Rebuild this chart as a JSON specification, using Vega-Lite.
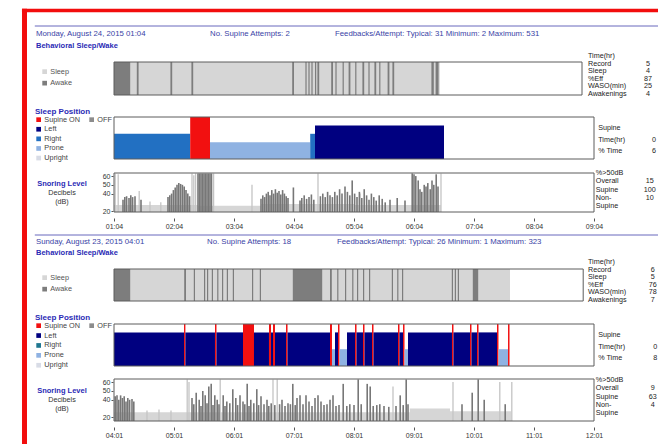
{
  "$schema": "https://vega.github.io/schema/vega-lite/v6.json",
  "width": 658,
  "height": 444,
  "padding": 0,
  "autosize": {"type": "none"},
  "background": "white",
  "config": {
    "view": {"stroke": null},
    "font": "Liberation Sans",
    "text": {"font": "Liberation Sans"},
    "axis": {"labelFont": "Liberation Sans"},
    "legend": {"labelFont": "Liberation Sans", "titleFont": "Liberation Sans"}
  },
  "datasets": {
    "sw1": [
      {"start": 0, "end": 5.43, "state": "Sleep"},
      {"start": 0, "end": 0.27, "state": "Awake"},
      {"start": 0.38, "end": 0.41, "state": "Awake"},
      {"start": 0.94, "end": 0.97, "state": "Awake"},
      {"start": 1.29, "end": 1.32, "state": "Awake"},
      {"start": 2.97, "end": 3.0, "state": "Awake"},
      {"start": 3.19, "end": 3.21, "state": "Awake"},
      {"start": 3.24, "end": 3.26, "state": "Awake"},
      {"start": 3.29, "end": 3.31, "state": "Awake"},
      {"start": 3.35, "end": 3.37, "state": "Awake"},
      {"start": 3.39, "end": 3.42, "state": "Awake"},
      {"start": 3.62, "end": 3.65, "state": "Awake"},
      {"start": 3.69, "end": 3.71, "state": "Awake"},
      {"start": 3.81, "end": 3.83, "state": "Awake"},
      {"start": 3.91, "end": 3.94, "state": "Awake"},
      {"start": 4.02, "end": 4.04, "state": "Awake"},
      {"start": 4.14, "end": 4.17, "state": "Awake"},
      {"start": 4.24, "end": 4.26, "state": "Awake"},
      {"start": 4.34, "end": 4.37, "state": "Awake"},
      {"start": 4.42, "end": 4.44, "state": "Awake"},
      {"start": 4.56, "end": 4.59, "state": "Awake"},
      {"start": 4.64, "end": 4.67, "state": "Awake"},
      {"start": 5.29, "end": 5.33, "state": "Awake"},
      {"start": 5.36, "end": 5.41, "state": "Awake"}
    ],
    "pos1": [
      {"start": 0, "end": 1.27, "position": "Right"},
      {"start": 1.27, "end": 1.6, "position": "Supine ON"},
      {"start": 1.6, "end": 3.27, "position": "Prone"},
      {"start": 3.27, "end": 3.35, "position": "Right"},
      {"start": 3.35, "end": 5.5, "position": "Left"}
    ],
    "band1": [
      {"start": 0, "end": 1.4, "db": 27},
      {"start": 1.4, "end": 2.45, "db": 26},
      {"start": 2.45, "end": 4.0, "db": 28},
      {"start": 4.0, "end": 5.45, "db": 27}
    ],
    "noise1": [
      {"t": 0.02, "db": 63}, {"t": 0.07, "db": 62}, {"t": 0.42, "db": 43}, {"t": 0.6, "db": 31},
      {"t": 0.78, "db": 30}, {"t": 1.3, "db": 63}, {"t": 1.33, "db": 61}, {"t": 1.36, "db": 63},
      {"t": 1.66, "db": 63}, {"t": 2.3, "db": 50}, {"t": 3.4, "db": 63}, {"t": 4.1, "db": 40},
      {"t": 5.45, "db": 63}
    ],
    "snore1": [
      {"t": 0.15, "db": 33}, {"t": 0.18, "db": 36}, {"t": 0.21, "db": 37}, {"t": 0.25, "db": 35},
      {"t": 0.28, "db": 38}, {"t": 0.31, "db": 36}, {"t": 0.35, "db": 37}, {"t": 0.45, "db": 33},
      {"t": 0.9, "db": 36}, {"t": 0.93, "db": 38}, {"t": 0.96, "db": 40}, {"t": 0.99, "db": 44},
      {"t": 1.02, "db": 47}, {"t": 1.05, "db": 50}, {"t": 1.08, "db": 52}, {"t": 1.11, "db": 51},
      {"t": 1.14, "db": 50}, {"t": 1.17, "db": 48}, {"t": 1.2, "db": 44}, {"t": 1.23, "db": 40},
      {"t": 1.26, "db": 37},
      {"t": 1.4, "db": 63}, {"t": 1.425, "db": 63}, {"t": 1.45, "db": 63}, {"t": 1.475, "db": 63},
      {"t": 1.5, "db": 63}, {"t": 1.525, "db": 63}, {"t": 1.55, "db": 63}, {"t": 1.575, "db": 63},
      {"t": 1.6, "db": 63}, {"t": 1.625, "db": 63},
      {"t": 2.45, "db": 34}, {"t": 2.48, "db": 38}, {"t": 2.51, "db": 36}, {"t": 2.54, "db": 40},
      {"t": 2.57, "db": 42}, {"t": 2.6, "db": 38}, {"t": 2.63, "db": 44}, {"t": 2.66, "db": 40},
      {"t": 2.69, "db": 45}, {"t": 2.72, "db": 41}, {"t": 2.75, "db": 43}, {"t": 2.78, "db": 39},
      {"t": 2.81, "db": 44}, {"t": 2.84, "db": 40}, {"t": 2.87, "db": 37}, {"t": 2.9, "db": 35},
      {"t": 2.99, "db": 47},
      {"t": 3.1, "db": 32}, {"t": 3.13, "db": 35}, {"t": 3.17, "db": 38}, {"t": 3.21, "db": 34},
      {"t": 3.25, "db": 36}, {"t": 3.29, "db": 39}, {"t": 3.33, "db": 33}, {"t": 3.44, "db": 37},
      {"t": 3.48, "db": 40}, {"t": 3.52, "db": 36}, {"t": 3.56, "db": 42}, {"t": 3.6, "db": 38},
      {"t": 3.64, "db": 36}, {"t": 3.68, "db": 42}, {"t": 3.72, "db": 38}, {"t": 3.76, "db": 45},
      {"t": 3.8, "db": 40}, {"t": 3.85, "db": 48}, {"t": 3.89, "db": 42}, {"t": 3.93, "db": 38},
      {"t": 3.97, "db": 55}, {"t": 4.01, "db": 40}, {"t": 4.05, "db": 36},
      {"t": 4.09, "db": 42}, {"t": 4.13, "db": 35}, {"t": 4.17, "db": 45}, {"t": 4.21, "db": 38},
      {"t": 4.25, "db": 33}, {"t": 4.29, "db": 40}, {"t": 4.33, "db": 36}, {"t": 4.37, "db": 32},
      {"t": 4.42, "db": 38}, {"t": 4.47, "db": 34}, {"t": 4.52, "db": 30},
      {"t": 4.6, "db": 33}, {"t": 4.72, "db": 35}, {"t": 4.85, "db": 32},
      {"t": 4.97, "db": 63}, {"t": 5.0, "db": 62}, {"t": 5.03, "db": 60}, {"t": 5.07, "db": 55},
      {"t": 5.1, "db": 45}, {"t": 5.13, "db": 42}, {"t": 5.17, "db": 50}, {"t": 5.2, "db": 48},
      {"t": 5.23, "db": 52}, {"t": 5.27, "db": 45}, {"t": 5.3, "db": 55}, {"t": 5.33, "db": 50},
      {"t": 5.37, "db": 62}, {"t": 5.4, "db": 48}
    ],
    "sw2": [
      {"start": 0, "end": 6.6, "state": "Sleep"},
      {"start": 0, "end": 0.27, "state": "Awake"},
      {"start": 1.17, "end": 1.2, "state": "Awake"},
      {"start": 1.33, "end": 1.35, "state": "Awake"},
      {"start": 1.5, "end": 1.52, "state": "Awake"},
      {"start": 1.55, "end": 1.57, "state": "Awake"},
      {"start": 1.63, "end": 1.65, "state": "Awake"},
      {"start": 1.72, "end": 1.74, "state": "Awake"},
      {"start": 1.8, "end": 1.82, "state": "Awake"},
      {"start": 1.88, "end": 1.9, "state": "Awake"},
      {"start": 1.98, "end": 2.0, "state": "Awake"},
      {"start": 2.3, "end": 2.32, "state": "Awake"},
      {"start": 2.43, "end": 2.45, "state": "Awake"},
      {"start": 2.98, "end": 3.47, "state": "Awake"},
      {"start": 3.6, "end": 3.63, "state": "Awake"},
      {"start": 3.72, "end": 3.74, "state": "Awake"},
      {"start": 3.85, "end": 3.87, "state": "Awake"},
      {"start": 3.97, "end": 3.99, "state": "Awake"},
      {"start": 4.05, "end": 4.07, "state": "Awake"},
      {"start": 4.15, "end": 4.17, "state": "Awake"},
      {"start": 4.25, "end": 4.27, "state": "Awake"},
      {"start": 4.63, "end": 4.65, "state": "Awake"},
      {"start": 4.72, "end": 4.74, "state": "Awake"},
      {"start": 4.8, "end": 4.82, "state": "Awake"},
      {"start": 5.63, "end": 5.65, "state": "Awake"},
      {"start": 5.68, "end": 5.7, "state": "Awake"},
      {"start": 5.73, "end": 5.75, "state": "Awake"},
      {"start": 5.98, "end": 6.07, "state": "Awake"}
    ],
    "pos2": [
      {"start": 0, "end": 1.167, "position": "Left"},
      {"start": 1.167, "end": 1.19, "position": "Supine ON"},
      {"start": 1.19, "end": 1.683, "position": "Left"},
      {"start": 1.683, "end": 1.708, "position": "Supine ON"},
      {"start": 1.708, "end": 2.15, "position": "Left"},
      {"start": 2.15, "end": 2.333, "position": "Supine ON"},
      {"start": 2.333, "end": 2.583, "position": "Left"},
      {"start": 2.583, "end": 2.617, "position": "Supine ON"},
      {"start": 2.617, "end": 2.65, "position": "Left"},
      {"start": 2.65, "end": 2.683, "position": "Supine ON"},
      {"start": 2.683, "end": 2.867, "position": "Left"},
      {"start": 2.867, "end": 2.892, "position": "Supine ON"},
      {"start": 2.892, "end": 3.6, "position": "Left"},
      {"start": 3.6, "end": 3.633, "position": "Supine ON"},
      {"start": 3.633, "end": 3.683, "position": "Prone"},
      {"start": 3.683, "end": 3.733, "position": "Left"},
      {"start": 3.733, "end": 3.758, "position": "Supine ON"},
      {"start": 3.758, "end": 3.883, "position": "Prone"},
      {"start": 3.883, "end": 4.017, "position": "Left"},
      {"start": 4.017, "end": 4.042, "position": "Supine ON"},
      {"start": 4.042, "end": 4.15, "position": "Left"},
      {"start": 4.15, "end": 4.175, "position": "Supine ON"},
      {"start": 4.175, "end": 4.3, "position": "Left"},
      {"start": 4.3, "end": 4.325, "position": "Supine ON"},
      {"start": 4.325, "end": 4.733, "position": "Left"},
      {"start": 4.733, "end": 4.758, "position": "Supine ON"},
      {"start": 4.758, "end": 4.817, "position": "Left"},
      {"start": 4.817, "end": 4.842, "position": "Supine ON"},
      {"start": 4.842, "end": 4.9, "position": "Prone"},
      {"start": 4.9, "end": 5.633, "position": "Left"},
      {"start": 5.633, "end": 5.658, "position": "Supine ON"},
      {"start": 5.658, "end": 5.933, "position": "Left"},
      {"start": 5.933, "end": 5.958, "position": "Supine ON"},
      {"start": 5.958, "end": 6.05, "position": "Left"},
      {"start": 6.05, "end": 6.075, "position": "Supine ON"},
      {"start": 6.075, "end": 6.383, "position": "Left"},
      {"start": 6.383, "end": 6.408, "position": "Supine ON"},
      {"start": 6.408, "end": 6.567, "position": "Prone"},
      {"start": 6.567, "end": 6.592, "position": "Supine ON"}
    ],
    "band2": [
      {"start": 0, "end": 4.93, "db": 26},
      {"start": 4.93, "end": 5.6, "db": 30},
      {"start": 5.6, "end": 6.62, "db": 27}
    ],
    "noise2": [
      {"t": 0.55, "db": 28}, {"t": 0.75, "db": 29}, {"t": 0.95, "db": 28},
      {"t": 1.22, "db": 63}, {"t": 1.25, "db": 60}, {"t": 1.77, "db": 63}, {"t": 2.65, "db": 63},
      {"t": 2.72, "db": 63}, {"t": 4.65, "db": 55}, {"t": 5.65, "db": 60}, {"t": 6.43, "db": 60},
      {"t": 6.63, "db": 60}
    ],
    "snore2": [
      {"t": 0.02, "db": 44}, {"t": 0.05, "db": 45}, {"t": 0.08, "db": 40}, {"t": 0.11, "db": 45},
      {"t": 0.14, "db": 42}, {"t": 0.17, "db": 44}, {"t": 0.2, "db": 38}, {"t": 0.23, "db": 42},
      {"t": 0.26, "db": 40}, {"t": 0.3, "db": 41}, {"t": 0.33, "db": 38},
      {"t": 1.3, "db": 42}, {"t": 1.33, "db": 35}, {"t": 1.37, "db": 48}, {"t": 1.42, "db": 40},
      {"t": 1.45, "db": 33}, {"t": 1.48, "db": 50}, {"t": 1.52, "db": 45}, {"t": 1.55, "db": 36},
      {"t": 1.58, "db": 55}, {"t": 1.62, "db": 58}, {"t": 1.65, "db": 34}, {"t": 1.68, "db": 45},
      {"t": 1.72, "db": 40}, {"t": 1.75, "db": 35}, {"t": 1.82, "db": 45}, {"t": 1.85, "db": 33},
      {"t": 1.88, "db": 38}, {"t": 1.93, "db": 36}, {"t": 1.98, "db": 52}, {"t": 2.03, "db": 42},
      {"t": 2.06, "db": 34}, {"t": 2.1, "db": 45}, {"t": 2.15, "db": 38}, {"t": 2.18, "db": 35},
      {"t": 2.22, "db": 58}, {"t": 2.25, "db": 33}, {"t": 2.28, "db": 40}, {"t": 2.33, "db": 36},
      {"t": 2.38, "db": 52}, {"t": 2.41, "db": 34}, {"t": 2.45, "db": 44}, {"t": 2.5, "db": 35},
      {"t": 2.55, "db": 40}, {"t": 2.58, "db": 33}, {"t": 2.62, "db": 36}, {"t": 2.68, "db": 34},
      {"t": 2.76, "db": 35}, {"t": 2.8, "db": 40}, {"t": 2.85, "db": 33}, {"t": 2.9, "db": 36},
      {"t": 2.94, "db": 35}, {"t": 2.98, "db": 58}, {"t": 3.02, "db": 34}, {"t": 3.05, "db": 42},
      {"t": 3.1, "db": 45}, {"t": 3.15, "db": 35}, {"t": 3.2, "db": 45}, {"t": 3.25, "db": 38},
      {"t": 3.3, "db": 33}, {"t": 3.35, "db": 42}, {"t": 3.4, "db": 45}, {"t": 3.45, "db": 38},
      {"t": 3.5, "db": 34}, {"t": 3.55, "db": 35}, {"t": 3.6, "db": 40}, {"t": 3.65, "db": 45},
      {"t": 3.7, "db": 33}, {"t": 3.75, "db": 34}, {"t": 3.82, "db": 58}, {"t": 3.88, "db": 33},
      {"t": 3.93, "db": 35}, {"t": 4.0, "db": 34}, {"t": 4.07, "db": 63}, {"t": 4.12, "db": 35},
      {"t": 4.22, "db": 58}, {"t": 4.27, "db": 55}, {"t": 4.32, "db": 33}, {"t": 4.38, "db": 34},
      {"t": 4.43, "db": 35}, {"t": 4.5, "db": 33}, {"t": 4.58, "db": 32}, {"t": 4.7, "db": 33},
      {"t": 4.77, "db": 45}, {"t": 4.82, "db": 34}, {"t": 4.87, "db": 63}, {"t": 4.9, "db": 35},
      {"t": 5.8, "db": 35}, {"t": 5.97, "db": 48}, {"t": 6.07, "db": 63}, {"t": 6.17, "db": 40},
      {"t": 6.52, "db": 35}
    ]
  },
  "layer": [
    {
      "layer": [
        {
          "layer": [
            {
              "data": {"name": "sw1"},
              "mark": {"type": "rect"},
              "encoding": {
                "x": {"field": "start", "type": "quantitative", "scale": {"domain": [0, 8], "range": [114, 594], "nice": false, "zero": false}},
                "x2": {"field": "end"},
                "y": {"datum": 1, "type": "quantitative", "scale": {"domain": [0, 1], "range": [95, 62], "nice": false, "zero": false}, "axis": null},
                "y2": {"datum": 0},
                "color": {"field": "state", "type": "nominal", "scale": {"domain": ["Sleep", "Awake"], "range": ["#d6d6d6", "#7d7d7d"]},
                  "legend": {"orient": "none", "legendX": 41, "legendY": 68, "title": null, "symbolType": "square", "symbolSize": 22, "symbolStrokeWidth": 0, "labelFontSize": 7.3, "labelColor": "#555555", "rowPadding": 3.5, "labelOffset": 2, "padding": 0}}
              }
            },
            {
              "data": {"values": [{}]},
              "mark": {"type": "rect", "fillOpacity": 0, "stroke": "#5c5c5c", "strokeWidth": 1},
              "encoding": {"x": {"datum": 0}, "x2": {"datum": 7.8}, "y": {"datum": 0, "type": "quantitative", "axis": null}, "y2": {"datum": 1}}
            },
            {
              "data": {"values": [{}]},
              "mark": {"type": "rule", "color": "#f20d0d", "strokeWidth": 5},
              "encoding": {"x": {"datum": -1.4917}, "y": {"datum": 2.61, "type": "quantitative", "axis": null}, "y2": {"datum": -10.6}}
            },
            {
              "data": {"values": [{}]},
              "mark": {"type": "rule", "color": "#f20d0d", "strokeWidth": 3.5},
              "encoding": {"x": {"datum": -1.534}, "x2": {"datum": 9.1}, "y": {"datum": 2.5606, "type": "quantitative", "axis": null}}
            }
          ]
        },
        {
          "layer": [
            {
              "data": {"name": "pos1"},
              "mark": {"type": "rect"},
              "encoding": {
                "x": {"field": "start", "type": "quantitative"},
                "x2": {"field": "end"},
                "y": {"field": "position", "type": "nominal", "scale": {"type": "point", "domain": ["Supine ON", "Left", "Right", "Prone", "Upright", "floor"], "range": [117, 159], "padding": 0}, "axis": null},
                "y2": {"datum": "floor"},
                "color": {"field": "position", "type": "nominal",
                  "scale": {"domain": ["Supine ON", "OFF", "Left", " ", "Right", "  ", "Prone", "   ", "Upright", "    "], "range": ["#f21010", "#8c8c8c", "#000080", "#ffffff", "#2270c2", "#ffffff", "#8fb2e2", "#ffffff", "#d8dce6", "#ffffff"]},
                  "legend": {"orient": "none", "legendX": 35, "legendY": 108, "title": "Sleep Position", "direction": "horizontal", "columns": 2, "columnPadding": 8, "rowPadding": 1.6, "symbolType": "square", "symbolSize": 22, "symbolStrokeWidth": 0, "labelFontSize": 7.3, "labelColor": "#444444", "labelOffset": 2, "titleColor": "#2a2ab5", "titleFontSize": 8, "titleFontWeight": "bold", "titlePadding": 0, "padding": 0}}
              }
            },
            {
              "data": {"values": [{}]},
              "mark": {"type": "rect", "fillOpacity": 0, "stroke": "#5c5c5c", "strokeWidth": 1},
              "encoding": {"x": {"datum": 0}, "x2": {"datum": 8}, "y": {"datum": "Supine ON", "type": "nominal", "axis": null}, "y2": {"datum": "floor"}}
            }
          ]
        },
        {
          "layer": [
            {
              "data": {"name": "band1"},
              "mark": {"type": "rect", "color": "#d6d6d6"},
              "encoding": {
                "x": {"field": "start", "type": "quantitative", "scale": {"domain": [0, 8], "range": [114, 594], "nice": false, "zero": false},
                  "axis": {"orient": "bottom", "offset": -226, "values": [0, 1, 2, 3, 4, 5, 6, 7, 8], "labelExpr": "['01:04','02:04','03:04','04:04','05:04','06:04','07:04','08:04','09:04'][datum.value]", "domain": false, "grid": false, "ticks": true, "tickSize": 3, "tickColor": "#555555", "labelFontSize": 7, "labelColor": "#333333", "labelPadding": 1, "title": null, "labelFlush": false, "labelOverlap": false}},
                "x2": {"field": "end"},
                "y": {"field": "db", "type": "quantitative", "scale": {"domain": [19, 63.5], "range": [212, 173], "nice": false, "zero": false},
                  "axis": {"orient": "left", "offset": -113, "values": [20, 40, 50, 60], "domain": false, "grid": false, "ticks": true, "tickSize": 2, "tickColor": "#555555", "labelFontSize": 7, "labelColor": "#333333", "labelPadding": 1, "title": null, "labelOverlap": false}},
                "y2": {"datum": 19}
              }
            },
            {
              "data": {"name": "noise1"},
              "mark": {"type": "rule", "color": "#c4c4c4", "strokeWidth": 1.3},
              "encoding": {"x": {"field": "t", "type": "quantitative"}, "y": {"field": "db", "type": "quantitative"}, "y2": {"datum": 19}}
            },
            {
              "data": {"name": "snore1"},
              "mark": {"type": "rule", "color": "#777777", "strokeWidth": 1.6},
              "encoding": {"x": {"field": "t", "type": "quantitative"}, "y": {"field": "db", "type": "quantitative"}, "y2": {"datum": 19}}
            },
            {
              "data": {"values": [{}]},
              "mark": {"type": "rect", "fillOpacity": 0, "stroke": "#5c5c5c", "strokeWidth": 1},
              "encoding": {"x": {"datum": 0}, "x2": {"datum": 8}, "y": {"datum": 19, "type": "quantitative"}, "y2": {"datum": 63.5}}
            }
          ]
        },
        {
          "layer": [
            {
              "data": {"values": [{}]},
              "mark": {"type": "rule", "color": "#5858b6", "strokeWidth": 0.9},
              "encoding": {"x": {"datum": -1.32}, "x2": {"datum": 9.07}, "y": {"datum": "rule", "type": "nominal", "scale": {"type": "point", "domain": ["rule", "header", "section"], "range": [26, 46], "padding": 0}, "axis": null}}
            },
            {
              "data": {"values": [{"text": "Monday, August 24, 2015 01:04"}]},
              "mark": {"type": "text", "align": "left", "baseline": "alphabetic", "fontSize": 7.8, "color": "#3943a6"},
              "encoding": {"x": {"datum": -1.3}, "y": {"datum": "header", "type": "nominal", "axis": null}, "text": {"field": "text"}}
            },
            {
              "data": {"values": [{"text": "No. Supine Attempts: 2"}]},
              "mark": {"type": "text", "align": "left", "baseline": "alphabetic", "fontSize": 7.8, "color": "#3943a6"},
              "encoding": {"x": {"datum": 1.6}, "y": {"datum": "header", "type": "nominal", "axis": null}, "text": {"field": "text"}}
            },
            {
              "data": {"values": [{"text": "Feedbacks/Attempt: Typical: 31 Minimum: 2 Maximum: 531"}]},
              "mark": {"type": "text", "align": "left", "baseline": "alphabetic", "fontSize": 7.8, "color": "#3943a6"},
              "encoding": {"x": {"datum": 3.683}, "y": {"datum": "header", "type": "nominal", "axis": null}, "text": {"field": "text"}}
            },
            {
              "data": {"values": [{"text": "Behavioral Sleep/Wake"}]},
              "mark": {"type": "text", "align": "left", "baseline": "middle", "fontSize": 7.5, "fontWeight": "bold", "color": "#2a2ab5"},
              "encoding": {"x": {"datum": -1.3}, "y": {"datum": "section", "type": "nominal", "axis": null}, "text": {"field": "text"}}
            }
          ]
        },
        {
          "data": {"values": [
            {"label": "Time(hr)", "value": ""},
            {"label": "Record", "value": "5"},
            {"label": "Sleep", "value": "4"},
            {"label": "%Eff", "value": "87"},
            {"label": "WASO(min)", "value": "25"},
            {"label": "Awakenings", "value": "4"}
          ]},
          "layer": [
            {
              "mark": {"type": "text", "align": "left", "baseline": "middle", "fontSize": 7.2, "color": "#222222"},
              "encoding": {"x": {"datum": 7.9}, "y": {"field": "label", "type": "nominal", "scale": {"type": "point", "domain": ["Time(hr)", "Record", "Sleep", "%Eff", "WASO(min)", "Awakenings"], "range": [56, 94], "padding": 0}, "axis": null}, "text": {"field": "label"}}
            },
            {
              "mark": {"type": "text", "align": "center", "baseline": "middle", "fontSize": 7.2, "color": "#222222"},
              "encoding": {"x": {"datum": 8.9}, "y": {"field": "label", "type": "nominal", "axis": null}, "text": {"field": "value"}}
            }
          ]
        },
        {
          "data": {"values": [
            {"label": "Supine", "value": ""},
            {"label": "Time(hr)", "value": "0"},
            {"label": "% Time", "value": "6"}
          ]},
          "layer": [
            {
              "mark": {"type": "text", "align": "left", "baseline": "middle", "fontSize": 7.2, "color": "#222222"},
              "encoding": {"x": {"datum": 8.07}, "y": {"field": "label", "type": "nominal", "scale": {"type": "point", "domain": ["Supine", "Time(hr)", "% Time"], "range": [128, 151], "padding": 0}, "axis": null}, "text": {"field": "label"}}
            },
            {
              "mark": {"type": "text", "align": "center", "baseline": "middle", "fontSize": 7.2, "color": "#222222"},
              "encoding": {"x": {"datum": 9.0}, "y": {"field": "label", "type": "nominal", "axis": null}, "text": {"field": "value"}}
            }
          ]
        },
        {
          "data": {"values": [
            {"line": "head", "label": "%>50dB", "value": ""},
            {"line": "overall", "label": "Overall", "value": "15"},
            {"line": "supine", "label": "Supine", "value": "100"},
            {"line": "non", "label": "Non-", "value": "10"},
            {"line": "non2", "label": "Supine", "value": ""}
          ]},
          "layer": [
            {
              "mark": {"type": "text", "align": "left", "baseline": "middle", "fontSize": 7.2, "color": "#222222"},
              "encoding": {"x": {"datum": 8.03}, "y": {"field": "line", "type": "nominal", "scale": {"type": "point", "domain": ["head", "overall", "supine", "non", "non2"], "range": [173, 206], "padding": 0}, "axis": null}, "text": {"field": "label"}}
            },
            {
              "mark": {"type": "text", "align": "center", "baseline": "middle", "fontSize": 7.2, "color": "#222222"},
              "encoding": {"x": {"datum": 8.93}, "y": {"field": "line", "type": "nominal", "axis": null}, "text": {"field": "value"}}
            }
          ]
        },
        {
          "layer": [
            {
              "data": {"values": [{"line": "title", "label": "Snoring Level"}]},
              "mark": {"type": "text", "align": "center", "baseline": "middle", "fontSize": 7.5, "fontWeight": "bold", "color": "#2a2ab5"},
              "encoding": {"x": {"datum": -0.867}, "y": {"field": "line", "type": "nominal", "scale": {"type": "point", "domain": ["title", "unit", "paren"], "range": [184, 202], "padding": 0}, "axis": null}, "text": {"field": "label"}}
            },
            {
              "data": {"values": [{"line": "unit", "label": "Decibels"}, {"line": "paren", "label": "(dB)"}]},
              "mark": {"type": "text", "align": "center", "baseline": "middle", "fontSize": 7.2, "color": "#333333"},
              "encoding": {"x": {"datum": -0.867}, "y": {"field": "line", "type": "nominal", "axis": null}, "text": {"field": "label"}}
            }
          ]
        }
      ],
      "resolve": {"scale": {"y": "independent", "color": "independent"}}
    },
    {
      "layer": [
        {
          "layer": [
            {
              "data": {"name": "sw2"},
              "mark": {"type": "rect"},
              "encoding": {
                "x": {"field": "start", "type": "quantitative", "scale": {"domain": [0, 8], "range": [114, 594], "nice": false, "zero": false}},
                "x2": {"field": "end"},
                "y": {"datum": 1, "type": "quantitative", "scale": {"domain": [0, 1], "range": [301, 269], "nice": false, "zero": false}, "axis": null},
                "y2": {"datum": 0},
                "color": {"field": "state", "type": "nominal", "scale": {"domain": ["Sleep", "Awake"], "range": ["#d6d6d6", "#7d7d7d"]},
                  "legend": {"orient": "none", "legendX": 41, "legendY": 274, "title": null, "symbolType": "square", "symbolSize": 22, "symbolStrokeWidth": 0, "labelFontSize": 7.3, "labelColor": "#555555", "rowPadding": 3.5, "labelOffset": 2, "padding": 0}}
              }
            },
            {
              "data": {"values": [{}]},
              "mark": {"type": "rect", "fillOpacity": 0, "stroke": "#5c5c5c", "strokeWidth": 1},
              "encoding": {"x": {"datum": 0}, "x2": {"datum": 7.82}, "y": {"datum": 0, "type": "quantitative", "axis": null}, "y2": {"datum": 1}}
            }
          ]
        },
        {
          "layer": [
            {
              "data": {"name": "pos2"},
              "mark": {"type": "rect"},
              "encoding": {
                "x": {"field": "start", "type": "quantitative"},
                "x2": {"field": "end"},
                "y": {"field": "position", "type": "nominal", "scale": {"type": "point", "domain": ["Supine ON", "Left", "Right", "Prone", "Upright", "floor"], "range": [324, 366], "padding": 0}, "axis": null},
                "y2": {"datum": "floor"},
                "color": {"field": "position", "type": "nominal",
                  "scale": {"domain": ["Supine ON", "OFF", "Left", " ", "Right", "  ", "Prone", "   ", "Upright", "    "], "range": ["#f21010", "#8c8c8c", "#000080", "#ffffff", "#1f7790", "#ffffff", "#8fb2e2", "#ffffff", "#d8dce6", "#ffffff"]},
                  "legend": {"orient": "none", "legendX": 35, "legendY": 314, "title": "Sleep Position", "direction": "horizontal", "columns": 2, "columnPadding": 8, "rowPadding": 1.9, "symbolType": "square", "symbolSize": 22, "symbolStrokeWidth": 0, "labelFontSize": 7.3, "labelColor": "#444444", "labelOffset": 2, "titleColor": "#2a2ab5", "titleFontSize": 8, "titleFontWeight": "bold", "titlePadding": 0, "padding": 0}}
              }
            },
            {
              "data": {"values": [{}]},
              "mark": {"type": "rect", "fillOpacity": 0, "stroke": "#5c5c5c", "strokeWidth": 1},
              "encoding": {"x": {"datum": 0}, "x2": {"datum": 8}, "y": {"datum": "Supine ON", "type": "nominal", "axis": null}, "y2": {"datum": "floor"}}
            }
          ]
        },
        {
          "layer": [
            {
              "data": {"name": "band2"},
              "mark": {"type": "rect", "color": "#d6d6d6"},
              "encoding": {
                "x": {"field": "start", "type": "quantitative", "scale": {"domain": [0, 8], "range": [114, 594], "nice": false, "zero": false},
                  "axis": {"orient": "bottom", "offset": -17, "values": [0, 1, 2, 3, 4, 5, 6, 7, 8], "labelExpr": "['04:01','05:01','06:01','07:01','08:01','09:01','10:01','11:01','12:01'][datum.value]", "domain": false, "grid": false, "ticks": true, "tickSize": 3, "tickColor": "#555555", "labelFontSize": 7, "labelColor": "#333333", "labelPadding": 1, "title": null, "labelFlush": false, "labelOverlap": false}},
                "x2": {"field": "end"},
                "y": {"field": "db", "type": "quantitative", "scale": {"domain": [16, 63.5], "range": [421, 379], "nice": false, "zero": false},
                  "axis": {"orient": "left", "offset": -113, "values": [20, 40, 50, 60], "domain": false, "grid": false, "ticks": true, "tickSize": 2, "tickColor": "#555555", "labelFontSize": 7, "labelColor": "#333333", "labelPadding": 1, "title": null, "labelOverlap": false}},
                "y2": {"datum": 16}
              }
            },
            {
              "data": {"name": "noise2"},
              "mark": {"type": "rule", "color": "#c4c4c4", "strokeWidth": 1.3},
              "encoding": {"x": {"field": "t", "type": "quantitative"}, "y": {"field": "db", "type": "quantitative"}, "y2": {"datum": 16}}
            },
            {
              "data": {"name": "snore2"},
              "mark": {"type": "rule", "color": "#777777", "strokeWidth": 1.6},
              "encoding": {"x": {"field": "t", "type": "quantitative"}, "y": {"field": "db", "type": "quantitative"}, "y2": {"datum": 16}}
            },
            {
              "data": {"values": [{}]},
              "mark": {"type": "rect", "fillOpacity": 0, "stroke": "#5c5c5c", "strokeWidth": 1},
              "encoding": {"x": {"datum": 0}, "x2": {"datum": 8}, "y": {"datum": 16, "type": "quantitative"}, "y2": {"datum": 63.5}}
            }
          ]
        },
        {
          "layer": [
            {
              "data": {"values": [{}]},
              "mark": {"type": "rule", "color": "#5858b6", "strokeWidth": 0.9},
              "encoding": {"x": {"datum": -1.32}, "x2": {"datum": 9.07}, "y": {"datum": "rule", "type": "nominal", "scale": {"type": "point", "domain": ["rule", "header", "section"], "range": [235, 253], "padding": 0}, "axis": null}}
            },
            {
              "data": {"values": [{"text": "Sunday, August 23, 2015 04:01"}]},
              "mark": {"type": "text", "align": "left", "baseline": "alphabetic", "fontSize": 7.8, "color": "#3943a6"},
              "encoding": {"x": {"datum": -1.3}, "y": {"datum": "header", "type": "nominal", "axis": null}, "text": {"field": "text"}}
            },
            {
              "data": {"values": [{"text": "No. Supine Attempts: 18"}]},
              "mark": {"type": "text", "align": "left", "baseline": "alphabetic", "fontSize": 7.8, "color": "#3943a6"},
              "encoding": {"x": {"datum": 1.55}, "y": {"datum": "header", "type": "nominal", "axis": null}, "text": {"field": "text"}}
            },
            {
              "data": {"values": [{"text": "Feedbacks/Attempt: Typical: 26 Minimum: 1 Maximum: 323"}]},
              "mark": {"type": "text", "align": "left", "baseline": "alphabetic", "fontSize": 7.8, "color": "#3943a6"},
              "encoding": {"x": {"datum": 3.717}, "y": {"datum": "header", "type": "nominal", "axis": null}, "text": {"field": "text"}}
            },
            {
              "data": {"values": [{"text": "Behavioral Sleep/Wake"}]},
              "mark": {"type": "text", "align": "left", "baseline": "middle", "fontSize": 7.5, "fontWeight": "bold", "color": "#2a2ab5"},
              "encoding": {"x": {"datum": -1.3}, "y": {"datum": "section", "type": "nominal", "axis": null}, "text": {"field": "text"}}
            }
          ]
        },
        {
          "data": {"values": [
            {"label": "Time(hr)", "value": ""},
            {"label": "Record", "value": "6"},
            {"label": "Sleep", "value": "5"},
            {"label": "%Eff", "value": "76"},
            {"label": "WASO(min)", "value": "78"},
            {"label": "Awakenings", "value": "7"}
          ]},
          "layer": [
            {
              "mark": {"type": "text", "align": "left", "baseline": "middle", "fontSize": 7.2, "color": "#222222"},
              "encoding": {"x": {"datum": 7.9}, "y": {"field": "label", "type": "nominal", "scale": {"type": "point", "domain": ["Time(hr)", "Record", "Sleep", "%Eff", "WASO(min)", "Awakenings"], "range": [262, 300], "padding": 0}, "axis": null}, "text": {"field": "label"}}
            },
            {
              "mark": {"type": "text", "align": "center", "baseline": "middle", "fontSize": 7.2, "color": "#222222"},
              "encoding": {"x": {"datum": 8.98}, "y": {"field": "label", "type": "nominal", "axis": null}, "text": {"field": "value"}}
            }
          ]
        },
        {
          "data": {"values": [
            {"label": "Supine", "value": ""},
            {"label": "Time(hr)", "value": "0"},
            {"label": "% Time", "value": "8"}
          ]},
          "layer": [
            {
              "mark": {"type": "text", "align": "left", "baseline": "middle", "fontSize": 7.2, "color": "#222222"},
              "encoding": {"x": {"datum": 8.07}, "y": {"field": "label", "type": "nominal", "scale": {"type": "point", "domain": ["Supine", "Time(hr)", "% Time"], "range": [335, 358], "padding": 0}, "axis": null}, "text": {"field": "label"}}
            },
            {
              "mark": {"type": "text", "align": "center", "baseline": "middle", "fontSize": 7.2, "color": "#222222"},
              "encoding": {"x": {"datum": 9.02}, "y": {"field": "label", "type": "nominal", "axis": null}, "text": {"field": "value"}}
            }
          ]
        },
        {
          "data": {"values": [
            {"line": "head", "label": "%>50dB", "value": ""},
            {"line": "overall", "label": "Overall", "value": "9"},
            {"line": "supine", "label": "Supine", "value": "63"},
            {"line": "non", "label": "Non-", "value": "4"},
            {"line": "non2", "label": "Supine", "value": ""}
          ]},
          "layer": [
            {
              "mark": {"type": "text", "align": "left", "baseline": "middle", "fontSize": 7.2, "color": "#222222"},
              "encoding": {"x": {"datum": 8.03}, "y": {"field": "line", "type": "nominal", "scale": {"type": "point", "domain": ["head", "overall", "supine", "non", "non2"], "range": [380, 413], "padding": 0}, "axis": null}, "text": {"field": "label"}}
            },
            {
              "mark": {"type": "text", "align": "center", "baseline": "middle", "fontSize": 7.2, "color": "#222222"},
              "encoding": {"x": {"datum": 8.98}, "y": {"field": "line", "type": "nominal", "axis": null}, "text": {"field": "value"}}
            }
          ]
        },
        {
          "layer": [
            {
              "data": {"values": [{"line": "title", "label": "Snoring Level"}]},
              "mark": {"type": "text", "align": "center", "baseline": "middle", "fontSize": 7.5, "fontWeight": "bold", "color": "#2a2ab5"},
              "encoding": {"x": {"datum": -0.867}, "y": {"field": "line", "type": "nominal", "scale": {"type": "point", "domain": ["title", "unit", "paren"], "range": [391, 409], "padding": 0}, "axis": null}, "text": {"field": "label"}}
            },
            {
              "data": {"values": [{"line": "unit", "label": "Decibels"}, {"line": "paren", "label": "(dB)"}]},
              "mark": {"type": "text", "align": "center", "baseline": "middle", "fontSize": 7.2, "color": "#333333"},
              "encoding": {"x": {"datum": -0.867}, "y": {"field": "line", "type": "nominal", "axis": null}, "text": {"field": "label"}}
            }
          ]
        }
      ],
      "resolve": {"scale": {"y": "independent", "color": "independent"}}
    }
  ],
  "resolve": {"scale": {"x": "independent", "y": "independent", "color": "independent"}}
}
